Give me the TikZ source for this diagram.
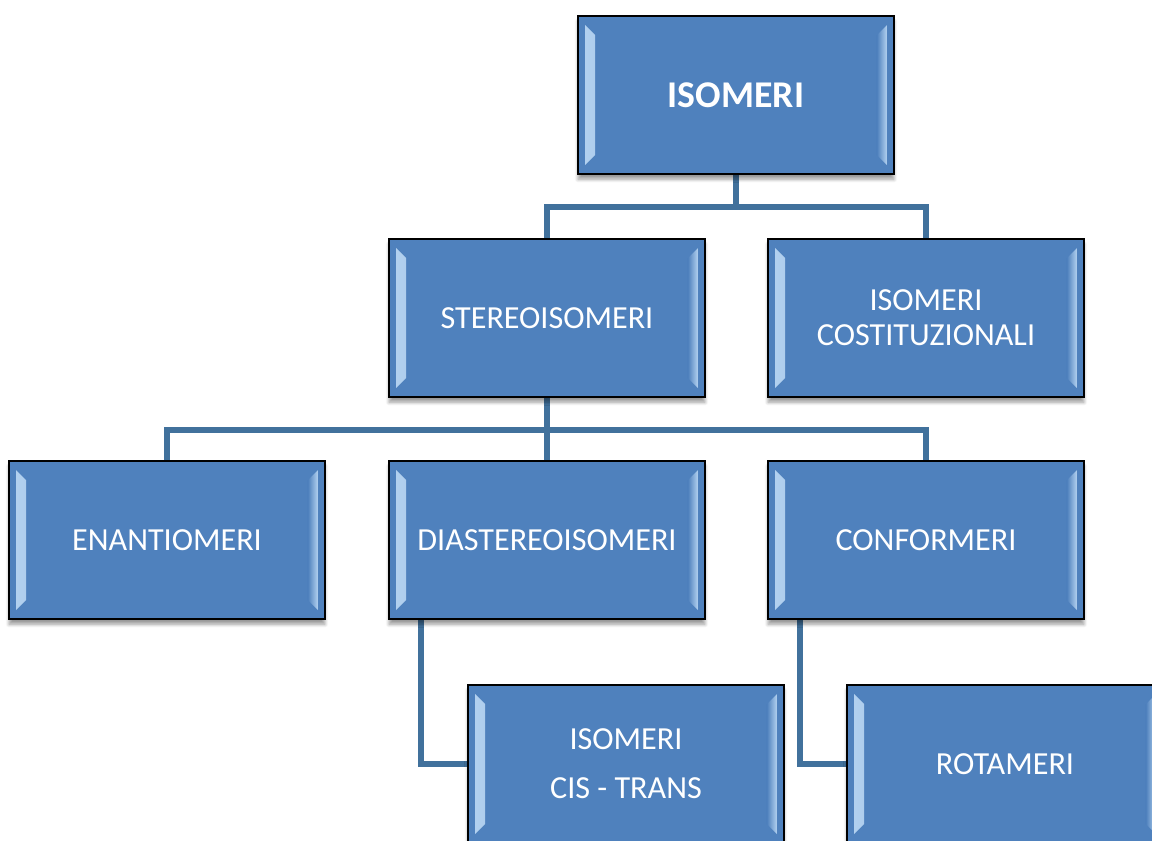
\documentclass[tikz,border=0pt]{standalone}
\usepackage{fontspec}
\setmainfont{Carlito}
\usetikzlibrary{calc,shadows.blur}
\definecolor{boxblue}{HTML}{4F81BD}
\definecolor{linkblue}{HTML}{41719C}
\definecolor{bevlight}{HTML}{B4D2F0}
\tikzset{
 bevbox/.style={draw=black,line width=0.9pt,fill=boxblue,text=white,
  minimum width=6.32cm,minimum height=3.16cm,align=center,font=\fontsize{18.3}{20}\selectfont,
  blur shadow={shadow xshift=0pt,shadow yshift=-3pt,shadow blur steps=6,shadow opacity=40},
  path picture={
   \shade[left color=bevlight,middle color=white,right color=boxblue]
    ($(path picture bounding box.north west)+(7,9)$) -- ($(path picture bounding box.north west)+(17,19)$)
    -- ($(path picture bounding box.south west)+(17,-19)$) -- ($(path picture bounding box.south west)+(7,-9)$) -- cycle;
   \shade[right color=bevlight,middle color=white,left color=boxblue]
    ($(path picture bounding box.north east)+(-7,9)$) -- ($(path picture bounding box.north east)+(-17,19)$)
    -- ($(path picture bounding box.south east)+(-17,-19)$) -- ($(path picture bounding box.south east)+(-7,-9)$) -- cycle;
  }},
 link/.style={draw=linkblue,line width=3pt}
}
\begin{document}
\begin{tikzpicture}[x=0.02cm,y=-0.02cm]
 \useasboundingbox (0,0) rectangle (1152,840);
 % links first, boxes on top
 \coordinate (t1) at (736,174);
 \coordinate (t2) at (547,397);
 \draw[link] (t1) -- ++(0,33) -| (547,239);
 \draw[link] (t1) -- ++(0,33) -| (926,239);
 \draw[link] (t2) -- ++(0,33) -| (167,461);
 \draw[link] (t2) -- ++(0,33) -| (926,461);
 \draw[link] (t2) -- (547,461);
 \draw[link] (421,619) |- (468,764);
 \draw[link] (800,619) |- (847,764);
 % boxes
 \node[bevbox,font=\fontsize{21.5}{24}\selectfont\bfseries] (iso) at (736,95) {ISOMERI};
 \node[bevbox] (stereo) at (547,318) {STEREOISOMERI};
 \node[bevbox] (cost) at (926,318) {ISOMERI\\COSTITUZIONALI};
 \node[bevbox] (enan) at (167,540) {ENANTIOMERI};
 \node[bevbox] (dia) at (547,540) {DIASTEREOISOMERI};
 \node[bevbox] (conf) at (926,540) {CONFORMERI};
 \node[bevbox] (cis) at (626,764) {ISOMERI\\[8pt]CIS - TRANS};
 \node[bevbox] (rot) at (1005,764) {ROTAMERI};
\end{tikzpicture}
\end{document}
